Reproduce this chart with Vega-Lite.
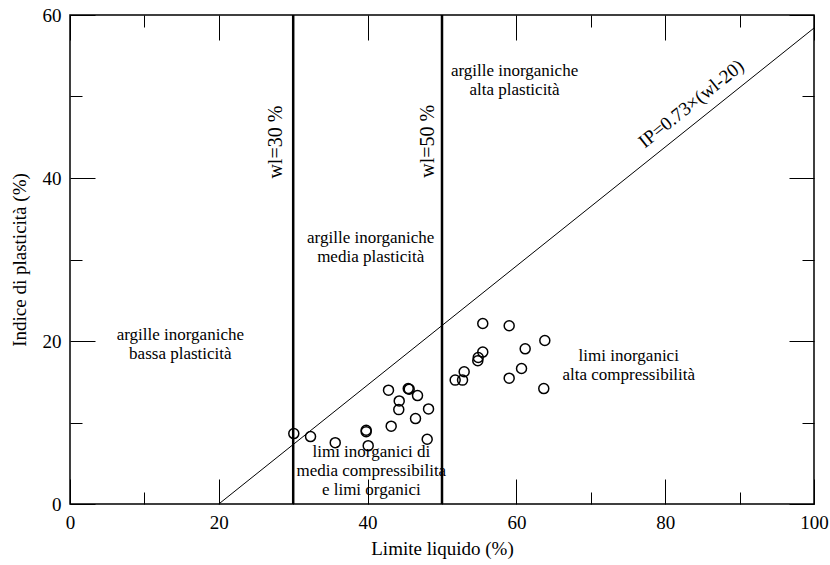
{
  "$schema": "https://vega.github.io/schema/vega-lite/v6.json",
  "width": 744,
  "height": 489,
  "autosize": "none",
  "padding": {"left": 70, "top": 15, "right": 16, "bottom": 61},
  "config": {
    "font": "Liberation Serif",
    "view": {"stroke": "black", "strokeWidth": 1.5},
    "axis": {"grid": false, "domain": false, "tickColor": "black", "tickWidth": 1, "labelColor": "black", "titleColor": "black", "labelFontSize": 19, "titleFontSize": 19, "titleFontWeight": "normal", "labelFlush": false}
  },
  "resolve": {"axis": {"x": "independent", "y": "independent"}},
  "layer": [
    {
      "data": {"values": [
        {"wl": 30.08, "ip": 8.64}, {"wl": 32.33, "ip": 8.27}, {"wl": 35.65, "ip": 7.53},
        {"wl": 39.81, "ip": 9.05}, {"wl": 39.81, "ip": 8.88}, {"wl": 40.08, "ip": 7.16},
        {"wl": 42.81, "ip": 13.97}, {"wl": 43.17, "ip": 9.55}, {"wl": 44.25, "ip": 12.65},
        {"wl": 44.19, "ip": 11.58}, {"wl": 45.46, "ip": 14.16}, {"wl": 45.59, "ip": 14.09},
        {"wl": 46.71, "ip": 13.3}, {"wl": 46.44, "ip": 10.48}, {"wl": 48.19, "ip": 11.67},
        {"wl": 48.01, "ip": 7.95}, {"wl": 51.77, "ip": 15.2}, {"wl": 52.76, "ip": 15.2},
        {"wl": 52.98, "ip": 16.22}, {"wl": 54.81, "ip": 17.57}, {"wl": 54.87, "ip": 17.97},
        {"wl": 55.48, "ip": 18.64}, {"wl": 55.48, "ip": 22.15}, {"wl": 59.03, "ip": 21.87},
        {"wl": 59.03, "ip": 15.44}, {"wl": 61.18, "ip": 19.04}, {"wl": 60.69, "ip": 16.62},
        {"wl": 63.82, "ip": 20.06}, {"wl": 63.68, "ip": 14.16}
      ]},
      "mark": {"type": "point", "shape": "circle", "filled": false, "size": 100, "stroke": "black", "strokeWidth": 1.5, "opacity": 1},
      "encoding": {
        "x": {"field": "wl", "type": "quantitative", "scale": {"domain": [0, 100], "nice": false, "zero": false},
          "axis": {"orient": "bottom", "values": [0, 20, 40, 60, 80, 100], "ticks": false, "labelPadding": 9, "title": "Limite liquido (%)", "titlePadding": 7}},
        "y": {"field": "ip", "type": "quantitative", "scale": {"domain": [0, 60], "nice": false, "zero": false},
          "axis": {"orient": "left", "values": [0, 20, 40, 60], "ticks": false, "labelPadding": 9, "title": "Indice di plasticità (%)", "titlePadding": 13}}
      }
    },
    {
      "data": {"values": [{"x": 30, "y1": 0, "y2": 60}, {"x": 50, "y1": 0, "y2": 60}]},
      "mark": {"type": "rule", "color": "black", "strokeWidth": 2.5},
      "encoding": {
        "x": {"field": "x", "type": "quantitative", "scale": {"domain": [0, 100], "nice": false, "zero": false},
          "axis": {"orient": "bottom", "values": [0, 20, 40, 60, 80, 100], "tickSize": -25, "labels": false, "title": null}},
        "y": {"field": "y1", "type": "quantitative", "scale": {"domain": [0, 60], "nice": false, "zero": false},
          "axis": {"orient": "left", "values": [0, 20, 40, 60], "tickSize": -25, "labels": false, "title": null}},
        "y2": {"field": "y2"}
      }
    },
    {
      "data": {"values": [{"x1": 20, "y1": 0, "x2": 100, "y2": 58.4}]},
      "mark": {"type": "rule", "color": "black", "strokeWidth": 1},
      "encoding": {
        "x": {"field": "x1", "type": "quantitative", "scale": {"domain": [0, 100], "nice": false, "zero": false},
          "axis": {"orient": "bottom", "values": [10, 30, 50, 70, 90], "tickSize": -12, "labels": false, "title": null}},
        "x2": {"field": "x2"},
        "y": {"field": "y1", "type": "quantitative", "scale": {"domain": [0, 60], "nice": false, "zero": false},
          "axis": {"orient": "left", "values": [10, 30, 50], "tickSize": -12, "labels": false, "title": null}},
        "y2": {"field": "y2"}
      }
    },
    {
      "data": {"values": [
        {"label": ["argille inorganiche", "bassa plasticità"], "x": 14.83, "y": 20.15},
        {"label": ["argille inorganiche", "media plasticità"], "x": 40.42, "y": 32.03},
        {"label": ["argille inorganiche", "alta plasticità"], "x": 59.75, "y": 52.46},
        {"label": ["limi inorganici", "alta compressibilità"], "x": 75.1, "y": 17.6},
        {"label": ["limi inorganici di", "media compressibilita", "e limi organici"], "x": 40.5, "y": 5.81}
      ]},
      "mark": {"type": "text", "fontSize": 17, "lineHeight": 19, "align": "center", "baseline": "alphabetic", "color": "black"},
      "encoding": {
        "x": {"field": "x", "type": "quantitative", "scale": {"domain": [0, 100], "nice": false, "zero": false},
          "axis": {"orient": "top", "values": [0, 20, 40, 60, 80, 100], "tickSize": -25, "labels": false, "title": null}},
        "y": {"field": "y", "type": "quantitative", "scale": {"domain": [0, 60], "nice": false, "zero": false},
          "axis": {"orient": "right", "values": [0, 20, 40, 60], "tickSize": -25, "labels": false, "title": null}},
        "text": {"field": "label", "type": "nominal"}
      }
    },
    {
      "data": {"values": [
        {"label": "wl=30 %", "x": 28.52, "y": 44.4},
        {"label": "wl=50 %", "x": 48.9, "y": 44.5}
      ]},
      "mark": {"type": "text", "fontSize": 20, "angle": -90, "align": "center", "baseline": "alphabetic", "color": "black"},
      "encoding": {
        "x": {"field": "x", "type": "quantitative", "scale": {"domain": [0, 100], "nice": false, "zero": false},
          "axis": {"orient": "top", "values": [10, 30, 50, 70, 90], "tickSize": -12, "labels": false, "title": null}},
        "y": {"field": "y", "type": "quantitative", "scale": {"domain": [0, 60], "nice": false, "zero": false},
          "axis": {"orient": "right", "values": [10, 30, 50], "tickSize": -12, "labels": false, "title": null}},
        "text": {"field": "label", "type": "nominal"}
      }
    },
    {
      "data": {"values": [{"label": "IP=0.73×(wl-20)", "x": 83.5, "y": 49.1}]},
      "mark": {"type": "text", "fontSize": 19, "angle": -38.6, "align": "center", "baseline": "middle", "color": "black"},
      "encoding": {
        "x": {"field": "x", "type": "quantitative", "scale": {"domain": [0, 100], "nice": false, "zero": false}, "axis": null},
        "y": {"field": "y", "type": "quantitative", "scale": {"domain": [0, 60], "nice": false, "zero": false}, "axis": null},
        "text": {"field": "label", "type": "nominal"}
      }
    }
  ]
}
